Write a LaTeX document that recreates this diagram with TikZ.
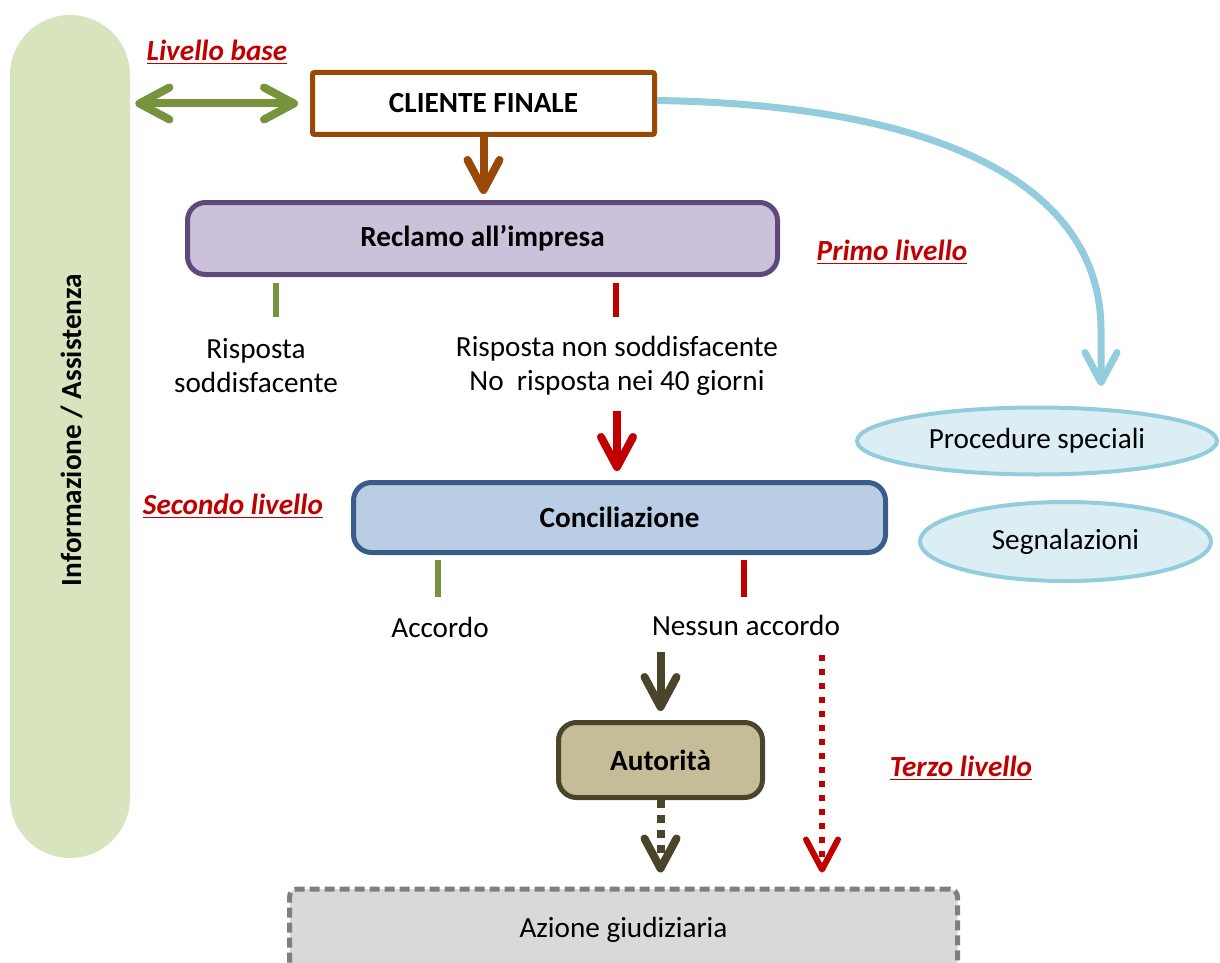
\documentclass[tikz,border=0pt]{standalone}
\usepackage{fontspec}
\setmainfont{Carlito}
\usetikzlibrary{arrows.meta,shapes.geometric}

\definecolor{PillGreen}{HTML}{D7E4BD}
\definecolor{AGreen}{HTML}{77933C}
\definecolor{DkRed}{HTML}{C00000}
\definecolor{Brown}{HTML}{984807}
\definecolor{PurpleD}{HTML}{5F497A}
\definecolor{PurpleL}{HTML}{CCC1DA}
\definecolor{BlueD}{HTML}{385D8A}
\definecolor{BlueL}{HTML}{B9CDE5}
\definecolor{SkyD}{HTML}{93CDDD}
\definecolor{SkyL}{HTML}{DBEEF4}
\definecolor{OliveD}{HTML}{4A452A}
\definecolor{OliveL}{HTML}{C4BD97}
\definecolor{GrayD}{HTML}{7F7F7F}
\definecolor{GrayL}{HTML}{D9D9D9}

\begin{document}
\begin{tikzpicture}[x=0.5pt,y=-0.5pt,font=\fontsize{14.6}{17}\selectfont,
  >={Straight Barb[length=15pt,width=16pt,round]}]

  \path[use as bounding box,clip] (0,0) rectangle (1220,963);

  % node styles
  \tikzstyle{Box}=[
  shape=rectangle,draw,
  line width=2.5pt,
  font=\fontsize{14.6}{17}\selectfont\bfseries,
  align=center,
  inner sep=0pt,
  rounded corners=9pt]

  \tikzstyle{Oval}=[shape=ellipse,draw=SkyD,fill=SkyL,line width=2pt,inner sep=0pt]
  \tikzstyle{Level}=[font=\fontsize{14.6}{17}\selectfont\bfseries\itshape,text=DkRed]
  \tikzstyle{Txt}=[align=center,inner sep=0pt]

  % connector styles
  \tikzstyle{Arr}=[line width=4pt,->]
  \tikzstyle{Tick}=[line width=3pt]

  % side band
  \node[fill=PillGreen,rounded corners=30pt,minimum width=60pt,minimum height=421.5pt,inner sep=0pt] (Info) at (70,436.5) {};
  \node[rotate=90,font=\fontsize{14.6}{17}\selectfont\bfseries] (InfoT) at (72,430) {Informazione / Assistenza};

  % boxes
  \node[Box,draw=Brown,fill=white,rounded corners=1pt,minimum width=171pt,minimum height=31pt] (Cliente) at (483.5,103.5) {CLIENTE FINALE};
  \node[Box,draw=PurpleD,fill=PurpleL,minimum width=295pt,minimum height=36pt] (Reclamo) at (482.5,238.5) {Reclamo all’impresa};
  \node[Box,draw=BlueD,fill=BlueL,minimum width=266pt,minimum height=35pt] (Concil) at (619.5,517.5) {Conciliazione};
  \node[Box,draw=OliveD,fill=OliveL,minimum width=102pt,minimum height=37.5pt] (Aut) at (660.5,760) {Autorità};
  \node[Box,draw=GrayD,fill=GrayL,dash pattern=on 5pt off 2.5pt,rounded corners=4pt,font=\fontsize{14.6}{17}\selectfont,minimum width=334pt,minimum height=41pt] (Azione) at (623.5,930) {Azione giudiziaria};

  \node[Oval,minimum width=180pt,minimum height=33.5pt] (PS) at (1037,441) {Procedure speciali};
  \node[Oval,minimum width=145.5pt,minimum height=39.5pt] (Seg) at (1065.5,541.5) {Segnalazioni};

  % texts
  \node[Txt] (Ok1) at (256,366) {Risposta\\soddisfacente};
  \node[Txt] (No1) at (617,366) {Risposta non soddisfacente\\No\ \ risposta nei 40 giorni};
  \node[Txt] (Ok2) at (440,627) {Accordo};
  \node[Txt] (No2) at (746,625) {Nessun accordo};

  \node[Level] (L0) at (217,52) {\underline{Livello base}};
  \node[Level] (L1) at (892,252) {\underline{Primo livello}};
  \node[Level] (L2) at (233,506) {\underline{Secondo livello}};
  \node[Level] (L3) at (961,768) {\underline{Terzo livello}};

  % connectors
  \draw[Arr,AGreen,<->,shorten <=2.5pt,shorten >=6pt] (Info.east |- Cliente.west) -- (Cliente.west);
  \draw[Arr,Brown,shorten >=3pt] (Cliente.south) -- (Cliente.south |- Reclamo.north);

  \coordinate (T1) at (276,283);
  \coordinate (T2) at (616,283);
  \draw[Tick,AGreen] (T1) -- ++(0,34);
  \draw[Tick,DkRed] (T2) -- ++(0,34);

  \draw[Arr,DkRed,shorten <=7.5pt,shorten >=4.5pt] (No1.south) -- (No1.south |- Concil.north);

  \coordinate (PSin) at (1101,386);
  \draw[Arr,SkyD,line width=3.5pt] ([yshift=1.5pt]Cliente.east) .. controls (950,105) and (1101,190) .. (1101,330) -- (PSin);

  \coordinate (T3) at (438,560);
  \coordinate (T4) at (744,560);
  \draw[Tick,AGreen] (T3) -- ++(0,37);
  \draw[Tick,DkRed] (T4) -- ++(0,37);

  \draw[Arr,OliveD,shorten <=8pt,shorten >=4.5pt] (Aut.north |- No2.south) -- (Aut.north);
  \draw[Arr,OliveD,dash pattern=on 4pt off 3.5pt,shorten >=7pt] (Aut.south) -- (Aut.south |- Azione.north);

  \coordinate (Nd) at (822,655);
  \draw[Arr,DkRed,line width=3pt,dash pattern=on 3pt off 4pt,shorten >=7pt] (Nd) -- (Nd |- Azione.north);

\end{tikzpicture}
\end{document}
